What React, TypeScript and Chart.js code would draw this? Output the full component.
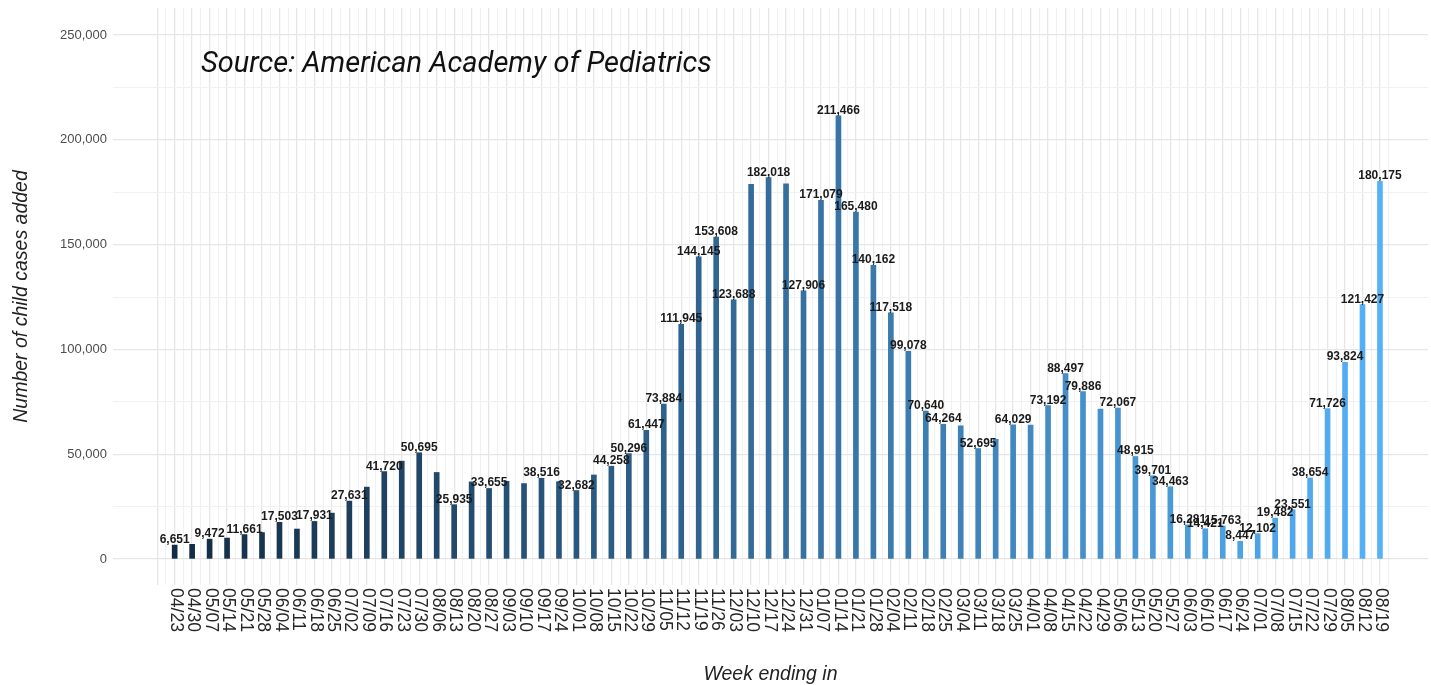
import React, { useEffect, useRef } from 'react';
import { Chart, registerables } from 'chart.js';

Chart.register(...registerables);

// ---- Data ----
const weeks: string[] = [
  '04/23', '04/30', '05/07', '05/14', '05/21', '05/28', '06/04', '06/11', '06/18', '06/25',
  '07/02', '07/09', '07/16', '07/23', '07/30', '08/06', '08/13', '08/20', '08/27', '09/03',
  '09/10', '09/17', '09/24', '10/01', '10/08', '10/15', '10/22', '10/29', '11/05', '11/12',
  '11/19', '11/26', '12/03', '12/10', '12/17', '12/24', '12/31', '01/07', '01/14', '01/21',
  '01/28', '02/04', '02/11', '02/18', '02/25', '03/04', '03/11', '03/18', '03/25', '04/01',
  '04/08', '04/15', '04/22', '04/29', '05/06', '05/13', '05/20', '05/27', '06/03', '06/10',
  '06/17', '06/24', '07/01', '07/08', '07/15', '07/22', '07/29', '08/05', '08/12', '08/19',
];

const cases: number[] = [
  6651, 7000, 9472, 10000, 11661, 12600, 17503, 14300, 17931, 21900,
  27631, 34300, 41720, 46700, 50695, 41300, 25935, 36800, 33655, 37100,
  36000, 38516, 36900, 32682, 40100, 44258, 50296, 61447, 73884, 111945,
  144145, 153608, 123688, 178800, 182018, 179000, 127906, 171079, 211466, 165480,
  140162, 117518, 99078, 70640, 64264, 63600, 52695, 57100, 64029, 63900,
  73192, 88497, 79886, 71500, 72067, 48915, 39701, 34463, 16281, 14421,
  15763, 8447, 12102, 19482, 23551, 38654, 71726, 93824, 121427, 180175,
];

// 1 = value printed above the bar
const showValue: number[] = [
  1, 0, 1, 0, 1, 0, 1, 0, 1, 0,
  1, 0, 1, 0, 1, 0, 1, 0, 1, 0,
  0, 1, 0, 1, 0, 1, 1, 1, 1, 1,
  1, 1, 1, 0, 1, 0, 1, 1, 1, 1,
  1, 1, 1, 1, 1, 0, 1, 0, 1, 0,
  1, 1, 1, 0, 1, 1, 1, 1, 1, 1,
  1, 1, 1, 1, 1, 1, 1, 1, 1, 1,
];

const yTicks: number[] = [0, 25000, 50000, 75000, 100000, 125000, 150000, 175000, 200000, 225000, 250000];
const yLabelStep = 50000;

const sourceText = 'Source: American Academy of Pediatrics';
const xTitle = 'Week ending in';
const yTitle = 'Number of child cases added';

// ---- Styles ----
const lowColor = [19, 43, 67];
const highColor = [86, 177, 247];
const FONT = '"Liberation Sans", Arial, Helvetica, sans-serif';

function barColor(i: number, n: number): string {
  const t = n > 1 ? i / (n - 1) : 0;
  const c = lowColor.map((v, k) => Math.round(v + (highColor[k] - v) * t));
  return `rgb(${c[0]},${c[1]},${c[2]})`;
}

const overlayPlugin = {
  id: 'overlay',
  afterDatasetsDraw(chart: any) {
    const ctx = chart.ctx as CanvasRenderingContext2D;
    const meta = chart.getDatasetMeta(0);
    const area = chart.chartArea;
    const xs = chart.scales.x;
    ctx.save();

    // value labels
    ctx.font = `bold 12px ${FONT}`;
    ctx.fillStyle = '#1a1a1a';
    ctx.textAlign = 'center';
    ctx.textBaseline = 'alphabetic';
    meta.data.forEach((bar: any, i: number) => {
      if (!showValue[i]) return;
      ctx.fillText(cases[i].toLocaleString('en-US'), bar.x, bar.y - 2);
    });

    // x tick labels, rotated clockwise
    ctx.font = `17.6px ${FONT}`;
    ctx.fillStyle = '#262626';
    ctx.textAlign = 'left';
    ctx.textBaseline = 'middle';
    weeks.forEach((w, i) => {
      const x = xs.getPixelForValue(i);
      ctx.save();
      ctx.translate(x + 1, area.bottom + 3);
      ctx.rotate(Math.PI / 2);
      ctx.fillText(w, 0, 0);
      ctx.restore();
    });

    // source annotation
    ctx.font = 'italic 29px Roboto, "Liberation Sans", sans-serif';
    ctx.fillStyle = '#111111';
    ctx.textAlign = 'left';
    ctx.textBaseline = 'middle';
    ctx.fillText(sourceText, area.left + 88, area.top + 57);

    ctx.restore();
  },
};

export default function App() {
  const canvasRef = useRef<HTMLCanvasElement | null>(null);

  useEffect(() => {
    const canvas = canvasRef.current;
    if (!canvas) return;
    const n = cases.length;
    const gridTicks: number[] = [-1, -0.5];
    weeks.forEach((_, i) => {
      gridTicks.push(i, i + 0.5);
    });

    const chart = new Chart(canvas, {
      type: 'bar',
      data: {
        datasets: [
          {
            data: cases.map((v, i) => ({ x: i, y: v })),
            backgroundColor: cases.map((_, i) => barColor(i, n)),
            barThickness: 5,
            borderWidth: 0,
          },
        ],
      },
      plugins: [overlayPlugin],
      options: {
        animation: false,
        responsive: false,
        devicePixelRatio: 1,
        layout: { padding: { top: 8, right: 3, bottom: 0, left: 0 } },
        plugins: {
          legend: { display: false },
          tooltip: { enabled: false },
        },
        scales: {
          x: {
            type: 'linear',
            min: -3.53,
            max: 71.75,
            offset: false,
            afterBuildTicks: (axis: any) => {
              axis.ticks = gridTicks.map((v) => ({ value: v }));
            },
            afterFit: (axis: any) => {
              axis.height = 100;
              axis.paddingLeft = 0;
              axis.paddingRight = 0;
            },
            ticks: { display: false, autoSkip: false },
            grid: {
              offset: false,
              drawTicks: false,
              color: (c: any) => (Number.isInteger(c.tick?.value) ? '#e6e6e6' : '#f1f1f1'),
              lineWidth: (c: any) => (Number.isInteger(c.tick?.value) ? 1.3 : 1),
            },
            border: { display: false },
            title: {
              display: true,
              text: xTitle,
              color: '#222222',
              font: { family: FONT, size: 19.5, style: 'italic' },
              padding: { top: 0, bottom: -1 },
            },
          },
          y: {
            type: 'linear',
            min: -12400,
            max: 262900,
            afterBuildTicks: (axis: any) => {
              axis.ticks = yTicks.map((v) => ({ value: v }));
            },
            afterFit: (axis: any) => {
              axis.width = 113;
              axis.paddingTop = 0;
              axis.paddingBottom = 0;
            },
            ticks: {
              padding: 6,
              color: '#4d4d4d',
              font: { family: FONT, size: 13 },
              callback: (v: any) => (Number(v) % yLabelStep === 0 ? Number(v).toLocaleString('en-US') : ''),
            },
            grid: {
              drawTicks: false,
              color: (c: any) => (c.tick && c.tick.value % yLabelStep === 0 ? '#e6e6e6' : '#f1f1f1'),
              lineWidth: (c: any) => (c.tick && c.tick.value % yLabelStep === 0 ? 1.3 : 1),
            },
            border: { display: false },
            title: {
              display: true,
              text: yTitle,
              color: '#222222',
              font: { family: FONT, size: 19.5, style: 'italic' },
              padding: { top: 10, bottom: 0 },
            },
          },
        },
      },
    } as any);

    return () => {
      chart.destroy();
    };
  }, []);

  return (
    <div style={{ position: 'fixed', left: 0, top: 0, width: 1431, height: 685, background: '#ffffff' }}>
      <canvas ref={canvasRef} width={1431} height={685} style={{ display: 'block', width: 1431, height: 685 }} />
    </div>
  );
}
